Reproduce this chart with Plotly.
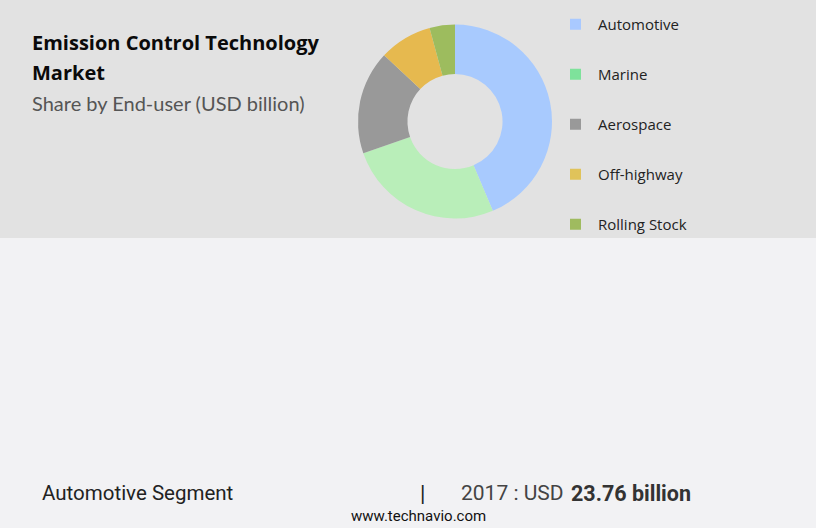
import plotly.graph_objects as go

categories = ["Automotive", "Marine", "Aerospace", "Off-highway", "Rolling Stock"]
values = [23.76, 14.2, 9.4, 4.8, 2.3]
slice_colors = ["#a8cafe", "#b9eeb9", "#999999", "#e6b94f", "#9dbc5e"]
legend_colors = ["#a9c9ff", "#7ee29b", "#999999", "#e0c35a", "#9fbb5f"]

W, H = 816, 528

fig = go.Figure()

fig.add_trace(go.Pie(
    labels=categories, values=values, sort=False, direction="clockwise", rotation=0,
    hole=0.49, textinfo="none", hoverinfo="label+value",
    marker=dict(colors=slice_colors, line=dict(width=0)),
    domain=dict(x=[358 / W, 552 / W], y=[1 - 219 / H, 1 - 24 / H]),
    showlegend=False,
))

for i, (name, col) in enumerate(zip(categories, legend_colors)):
    fig.add_trace(go.Scatter(
        x=[None], y=[None], mode="markers", name=name, legendgroup=f"g{i}",
        marker=dict(symbol="square", size=11, color=col),
    ))

cond = "Liberation Sans Narrow, Roboto, sans-serif"
annotations = [
    dict(text="<b>Emission Control Technology</b>", x=30 / W, y=1 - 43 / H, xanchor="left", yanchor="middle",
         font=dict(family="Open Sans", size=20, color="#0a0a0a")),
    dict(text="<b>Market</b>", x=30 / W, y=1 - 73 / H, xanchor="left", yanchor="middle",
         font=dict(family="Open Sans", size=20, color="#0a0a0a")),
    dict(text="Share by End-user (USD billion)", x=30 / W, y=1 - 103 / H, xanchor="left", yanchor="middle",
         font=dict(family="Lato", size=20, color="#555555")),
    dict(text="Automotive Segment", x=40 / W, y=1 - 493 / H, xanchor="left", yanchor="middle",
         font=dict(family=cond, size=20.5, color="#222222")),
    dict(text="|", x=422 / W, y=1 - 493 / H, xanchor="center", yanchor="middle",
         font=dict(family=cond, size=22, color="#222222")),
    dict(text="2017 : USD", x=459 / W, y=1 - 493 / H, xanchor="left", yanchor="middle",
         font=dict(family=cond, size=21, color="#444444")),
    dict(text="<b>23.76 billion</b>", x=569 / W, y=1 - 493 / H, xanchor="left", yanchor="middle",
         font=dict(family=cond, size=21.5, color="#333333")),
    dict(text="www.technavio.com", x=419 / W, y=1 - 516 / H, xanchor="center", yanchor="middle",
         font=dict(family=cond, size=15, color="#111111")),
]
for a in annotations:
    a.update(xref="paper", yref="paper", showarrow=False)

fig.update_layout(
    width=W, height=H,
    margin=dict(l=0, r=0, t=0, b=0),
    paper_bgcolor="#f2f2f4", plot_bgcolor="rgba(0,0,0,0)",
    xaxis=dict(visible=False), yaxis=dict(visible=False),
    shapes=[dict(type="rect", xref="paper", yref="paper", x0=0, x1=1, y0=1 - 238 / H, y1=1,
                 fillcolor="#e2e2e2", line=dict(width=0), layer="below")],
    annotations=annotations,
    legend=dict(x=553 / W, y=1 - 8 / H, xanchor="left", yanchor="top",
                font=dict(family="Open Sans", size=15, color="#222222"),
                tracegroupgap=27.5, itemwidth=35, bgcolor="rgba(0,0,0,0)"),
)

fig.write_html("out.html", config={"displayModeBar": False},
               post_script="document.body.style.margin='0';document.body.style.overflow='hidden';")
